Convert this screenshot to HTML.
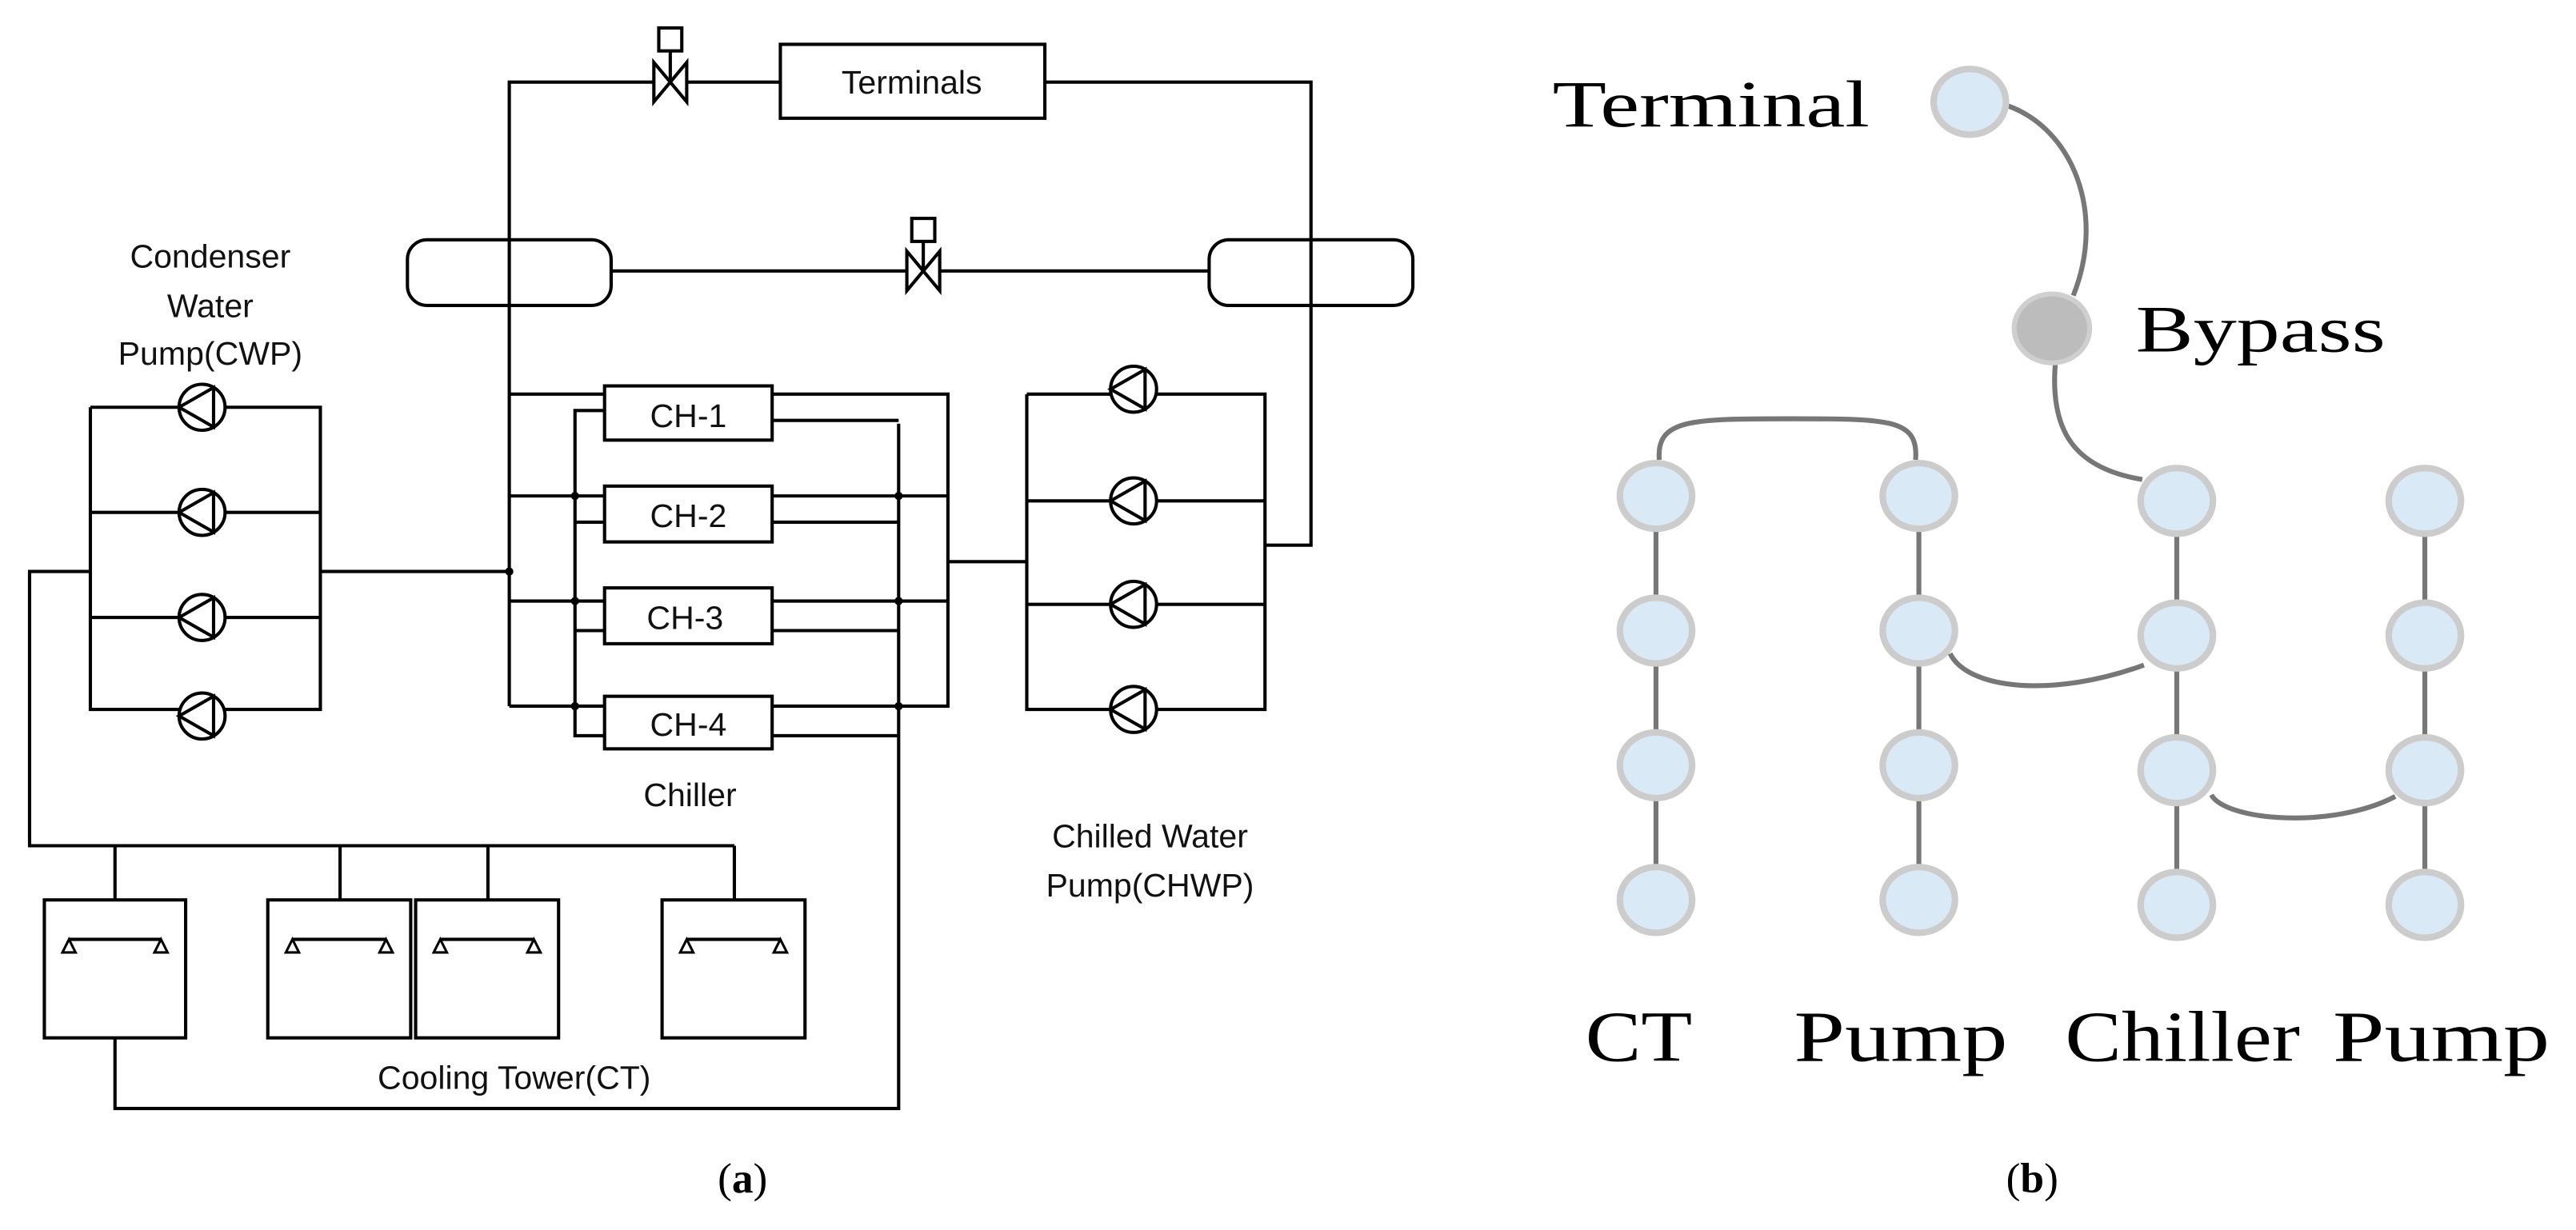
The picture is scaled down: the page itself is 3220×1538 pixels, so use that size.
<!DOCTYPE html>
<html><head><meta charset="utf-8"><style>
html,body{margin:0;padding:0;background:#fff;}
svg{display:block;}
.t{font-family:"Liberation Sans",sans-serif;font-size:20px;fill:#111;text-anchor:middle;}
.s{font-family:"Liberation Serif",serif;fill:#000;}
</style></head><body>
<svg width="3220" height="1538" viewBox="0 0 1568 749" preserveAspectRatio="none" xmlns="http://www.w3.org/2000/svg">
<g fill="none" stroke="#000" stroke-width="2">
<polyline points="310,430 310,50 398,50"/>
<line x1="418" y1="50" x2="475" y2="50"/>
<rect x="475" y="27" width="161" height="45"/>
<polyline points="636,50 798,50 798,332 770,332"/>
<rect x="401" y="17" width="14" height="14"/>
<line x1="408" y1="31" x2="408" y2="49"/>
<polygon points="398,38 418,62 418,38 398,62"/>
<rect x="248" y="146" width="124" height="40" rx="12"/>
<rect x="736" y="146" width="124" height="40" rx="12"/>
<line x1="372" y1="165" x2="552" y2="165"/>
<line x1="572" y1="165" x2="736" y2="165"/>
<rect x="555" y="133" width="14" height="14"/>
<line x1="562" y1="147" x2="562" y2="164"/>
<polygon points="552,153 572,177 572,153 552,177"/>
<polyline points="55,248 55,432 195,432 195,248 55,248"/>
<line x1="55" y1="312" x2="195" y2="312"/>
<line x1="55" y1="376" x2="195" y2="376"/>
<line x1="195" y1="348" x2="310" y2="348"/>
<polyline points="55,348 18,348 18,515 447,515"/>
<line x1="70" y1="515" x2="70" y2="548"/>
<line x1="207" y1="515" x2="207" y2="548"/>
<line x1="297" y1="515" x2="297" y2="548"/>
<line x1="447" y1="515" x2="447" y2="548"/>
<rect x="27" y="548" width="86" height="84"/>
<rect x="163" y="548" width="87" height="84"/>
<rect x="253" y="548" width="87" height="84"/>
<rect x="403" y="548" width="87" height="84"/>
<polyline points="70,632 70,675 547,675 547,258"/>
<rect x="368" y="235" width="102" height="33"/>
<rect x="368" y="296" width="102" height="34"/>
<rect x="368" y="358" width="102" height="34"/>
<rect x="368" y="424" width="102" height="32"/>
<line x1="310" y1="240" x2="368" y2="240"/>
<line x1="310" y1="302" x2="368" y2="302"/>
<line x1="310" y1="366" x2="368" y2="366"/>
<line x1="310" y1="430" x2="368" y2="430"/>
<polyline points="368,250 350,250 350,448 368,448"/>
<line x1="350" y1="318" x2="368" y2="318"/>
<line x1="350" y1="384" x2="368" y2="384"/>
<polyline points="470,240 577,240 577,430 470,430"/>
<line x1="470" y1="302" x2="577" y2="302"/>
<line x1="470" y1="366" x2="577" y2="366"/>
<line x1="470" y1="256" x2="547" y2="256"/>
<line x1="470" y1="318" x2="547" y2="318"/>
<line x1="470" y1="384" x2="547" y2="384"/>
<line x1="470" y1="448" x2="547" y2="448"/>
<line x1="577" y1="342" x2="625" y2="342"/>
<polyline points="625,240 770,240 770,432 625,432 625,240"/>
<line x1="625" y1="305" x2="770" y2="305"/>
<line x1="625" y1="368" x2="770" y2="368"/>
</g>
<g fill="#000">
<circle cx="310" cy="348" r="2.5"/><circle cx="350" cy="302" r="2.5"/><circle cx="350" cy="366" r="2.5"/><circle cx="350" cy="430" r="2.5"/>
<circle cx="547" cy="302" r="2.5"/><circle cx="547" cy="366" r="2.5"/><circle cx="547" cy="430" r="2.5"/>
</g>
<g fill="#fff" stroke="#000" stroke-width="2">
<g transform="translate(123,248)"><circle r="14"/><polygon fill="none" points="7,-12 -14,0 7,12"/></g>
<g transform="translate(123,312)"><circle r="14"/><polygon fill="none" points="7,-12 -14,0 7,12"/></g>
<g transform="translate(123,376)"><circle r="14"/><polygon fill="none" points="7,-12 -14,0 7,12"/></g>
<g transform="translate(123,436)"><circle r="14"/><polygon fill="none" points="7,-12 -14,0 7,12"/></g>
<g transform="translate(690,237)"><circle r="14"/><polygon fill="none" points="7,-12 -14,0 7,12"/></g>
<g transform="translate(690,305)"><circle r="14"/><polygon fill="none" points="7,-12 -14,0 7,12"/></g>
<g transform="translate(690,368)"><circle r="14"/><polygon fill="none" points="7,-12 -14,0 7,12"/></g>
<g transform="translate(690,432)"><circle r="14"/><polygon fill="none" points="7,-12 -14,0 7,12"/></g>
</g>
<g stroke="#000" stroke-width="2" fill="none">
<line x1="42" y1="572" x2="98" y2="572"/><line x1="178" y1="572" x2="235" y2="572"/>
<line x1="268" y1="572" x2="325" y2="572"/><line x1="418" y1="572" x2="475" y2="572"/>
</g>
<g fill="#fff" stroke="#000" stroke-width="1.5">
<polygon points="42,572 38,580 46,580"/><polygon points="98,572 94,580 102,580"/>
<polygon points="178,572 174,580 182,580"/><polygon points="235,572 231,580 239,580"/>
<polygon points="268,572 264,580 272,580"/><polygon points="325,572 321,580 329,580"/>
<polygon points="418,572 414,580 422,580"/><polygon points="475,572 471,580 479,580"/>
</g>
<g class="t">
<text x="555" y="57">Terminals</text>
<text x="419" y="260">CH-1</text><text x="419" y="321">CH-2</text><text x="417" y="383">CH-3</text><text x="419" y="448">CH-4</text>
<text x="128" y="163">Condenser</text><text x="128" y="193">Water</text><text x="128" y="222">Pump(CWP)</text>
<text x="420" y="491">Chiller</text>
<text x="700" y="516">Chilled Water</text><text x="700" y="546">Pump(CHWP)</text>
<text x="313" y="663">Cooling Tower(CT)</text>
</g>
<text class="s" x="452" y="726" font-size="26" text-anchor="middle">(<tspan font-weight="bold">a</tspan>)</text>
<g fill="none" stroke="#777" stroke-width="3">
<path d="M1221,64 C1262,78 1282,130 1262,180"/>
<path d="M1251,222 C1248,262 1262,285 1304,292"/>
<path d="M1010,280 C1008,255 1030,255 1090,255 C1150,255 1168,255 1166,280"/>
<path d="M1187,398 C1198,420 1250,425 1305,405"/>
<path d="M1346,484 C1355,500 1420,505 1458,485"/>
<line x1="1008" y1="302" x2="1008" y2="548"/>
<line x1="1168" y1="302" x2="1168" y2="548"/>
<line x1="1325" y1="305" x2="1325" y2="551"/>
<line x1="1476" y1="305" x2="1476" y2="551"/>
</g>
<g fill="#dae9f6" stroke="#cccccc" stroke-width="4">
<ellipse cx="1199" cy="62" rx="22" ry="20"/>
<ellipse cx="1008" cy="302" rx="22" ry="20"/><ellipse cx="1008" cy="384" rx="22" ry="20"/><ellipse cx="1008" cy="466" rx="22" ry="20"/><ellipse cx="1008" cy="548" rx="22" ry="20"/>
<ellipse cx="1168" cy="302" rx="22" ry="20"/><ellipse cx="1168" cy="384" rx="22" ry="20"/><ellipse cx="1168" cy="466" rx="22" ry="20"/><ellipse cx="1168" cy="548" rx="22" ry="20"/>
<ellipse cx="1325" cy="305" rx="22" ry="20"/><ellipse cx="1325" cy="387" rx="22" ry="20"/><ellipse cx="1325" cy="469" rx="22" ry="20"/><ellipse cx="1325" cy="551" rx="22" ry="20"/>
<ellipse cx="1476" cy="305" rx="22" ry="20"/><ellipse cx="1476" cy="387" rx="22" ry="20"/><ellipse cx="1476" cy="469" rx="22" ry="20"/><ellipse cx="1476" cy="551" rx="22" ry="20"/>
</g>
<ellipse cx="1249" cy="200" rx="23" ry="21" fill="#bcbcbc" stroke="#cfcfcf" stroke-width="3"/>
<g class="s" font-size="40">
<text x="945" y="77" textLength="193" lengthAdjust="spacingAndGlyphs">Terminal</text>
<text x="1300" y="214" textLength="152" lengthAdjust="spacingAndGlyphs">Bypass</text>
</g>
<g class="s" font-size="44">
<text x="965" y="646" textLength="65" lengthAdjust="spacingAndGlyphs">CT</text>
<text x="1092" y="646" textLength="130" lengthAdjust="spacingAndGlyphs">Pump</text>
<text x="1257" y="646" textLength="143" lengthAdjust="spacingAndGlyphs">Chiller</text>
<text x="1420" y="646" textLength="132" lengthAdjust="spacingAndGlyphs">Pump</text>
</g>
<text class="s" x="1237" y="726" font-size="26" text-anchor="middle">(<tspan font-weight="bold">b</tspan>)</text>
</svg>
</body></html>
